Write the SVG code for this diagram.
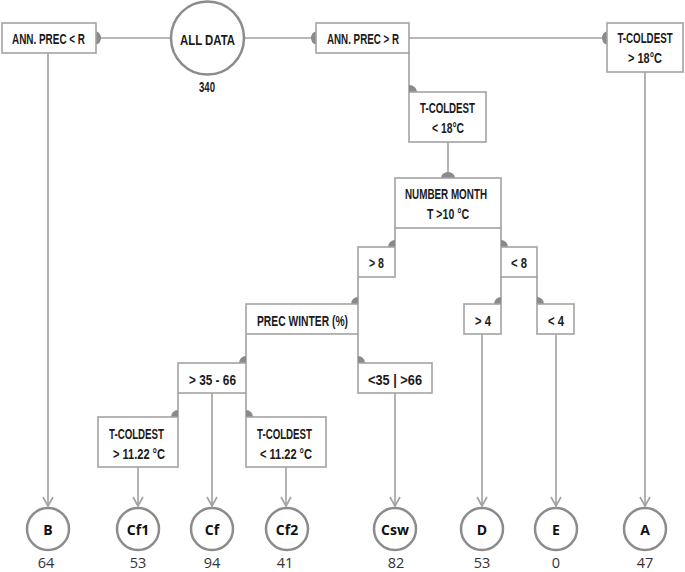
<svg xmlns="http://www.w3.org/2000/svg" width="685" height="572" viewBox="0 0 685 572">
<defs>
<style>
.box{fill:#fff;stroke:#a3a3a3;stroke-width:1.6}
.ln{fill:none;stroke:#a0a0a0;stroke-width:1.6}
.mk{fill:#8a8a8a;stroke:none}
.t{font-family:"Liberation Sans",Arial,sans-serif;font-weight:bold;font-size:15px;fill:#1a1a1a;text-anchor:middle}
.leaf{fill:#fff;stroke:#8c8c8c;stroke-width:2.5}
.lt{font-family:"Open Sans","Noto Sans",sans-serif;font-weight:bold;font-size:14px;fill:#111;text-anchor:middle}
.n{font-family:"Open Sans","Noto Sans",sans-serif;font-size:14.5px;fill:#333;text-anchor:middle}
</style>
<marker id="arr" viewBox="0 0 12 12" refX="10" refY="6" markerWidth="12" markerHeight="12" markerUnits="userSpaceOnUse" orient="auto">
<path d="M1,1 L10,6 L1,11" fill="none" stroke="#a0a0a0" stroke-width="1.6"/>
</marker>
</defs>
<rect width="685" height="572" fill="#fff"/>
<g id="connectors">
<line class="ln" x1="96" y1="38" x2="170" y2="38"/>
<line class="ln" x1="245" y1="38" x2="316" y2="38"/>
<line class="ln" x1="409" y1="38" x2="607" y2="38"/>
<line class="ln" x1="409" y1="53" x2="409" y2="92"/>
<line class="ln" x1="448" y1="142" x2="448" y2="178"/>
<line class="ln" x1="395" y1="228" x2="395" y2="247"/>
<line class="ln" x1="501" y1="228" x2="501" y2="247"/>
<line class="ln" x1="501" y1="277" x2="501" y2="304"/>
<line class="ln" x1="537" y1="277" x2="537" y2="304"/>
<line class="ln" x1="358" y1="277" x2="358" y2="304"/>
<line class="ln" x1="246" y1="334" x2="246" y2="363"/>
<line class="ln" x1="358" y1="334" x2="358" y2="363"/>
<line class="ln" x1="178" y1="393" x2="178" y2="417"/>
<line class="ln" x1="246" y1="393" x2="246" y2="417"/>
<line class="ln" x1="48" y1="53" x2="48" y2="506" marker-end="url(#arr)"/>
<line class="ln" x1="138" y1="467" x2="138" y2="506" marker-end="url(#arr)"/>
<line class="ln" x1="212" y1="393" x2="212" y2="506" marker-end="url(#arr)"/>
<line class="ln" x1="286" y1="467" x2="286" y2="506" marker-end="url(#arr)"/>
<line class="ln" x1="395" y1="393" x2="395" y2="506" marker-end="url(#arr)"/>
<line class="ln" x1="482" y1="334" x2="482" y2="506" marker-end="url(#arr)"/>
<line class="ln" x1="556" y1="334" x2="556" y2="506" marker-end="url(#arr)"/>
<line class="ln" x1="645" y1="72" x2="645" y2="506" marker-end="url(#arr)"/>
<path class="mk" d="M96,31.5 A5,6.5 0 0 1 96,44.5 Z"/>
<path class="mk" d="M316,31.5 A5,6.5 0 0 0 316,44.5 Z"/>
<path class="mk" d="M607,31.5 A5,6.5 0 0 0 607,44.5 Z"/>
<path class="mk" d="M441,178 A7,6 0 0 1 455,178 Z"/>
<path class="mk" d="M409,92 L409,85 A8,7 0 0 1 417,92 Z"/>
<path class="mk" d="M395,247 L388,247 A7,7 0 0 1 395,240 Z"/>
<path class="mk" d="M501,247 L501,240 A7,7 0 0 1 508,247 Z"/>
<path class="mk" d="M501,304 L494,304 A7,7 0 0 1 501,297 Z"/>
<path class="mk" d="M537,304 L537,297 A7,7 0 0 1 544,304 Z"/>
<path class="mk" d="M358,304 L351,304 A7,7 0 0 1 358,297 Z"/>
<path class="mk" d="M246,363 L239,363 A7,7 0 0 1 246,356 Z"/>
<path class="mk" d="M358,363 L358,356 A7,7 0 0 1 365,363 Z"/>
<path class="mk" d="M178,417 L171,417 A7,7 0 0 1 178,410 Z"/>
<path class="mk" d="M246,417 L246,410 A7,7 0 0 1 253,417 Z"/>
</g>
<g id="all-data">
<circle cx="207.5" cy="38" r="36.5" fill="#fff" stroke="#8c8c8c" stroke-width="2.5"/>
<text class="t" x="207.5" y="45" font-size="18" textLength="55" lengthAdjust="spacingAndGlyphs">ALL DATA</text>
<text class="t" x="207" y="92" font-size="12" font-weight="normal" fill="#333" textLength="16" lengthAdjust="spacingAndGlyphs">340</text>
</g>
<g id="ann-prec-lt">
<rect class="box" x="2" y="23" width="94" height="30"/>
<text class="t" x="48.5" y="43.5" textLength="73" lengthAdjust="spacingAndGlyphs">ANN. PREC &lt; R</text>
</g>
<g id="ann-prec-gt">
<rect class="box" x="316" y="23" width="93" height="30"/>
<text class="t" x="363" y="43.5" textLength="72" lengthAdjust="spacingAndGlyphs">ANN. PREC &gt; R</text>
</g>
<g id="tcold-gt18">
<rect class="box" x="607" y="23" width="76" height="49"/>
<text class="t" transform="translate(645,43) scale(0.65,1)" x="0" y="0">T-COLDEST</text>
<text class="t" x="645" y="63" textLength="34" lengthAdjust="spacingAndGlyphs">&gt; 18°C</text>
</g>
<g id="tcold-lt18">
<rect class="box" x="409" y="92" width="77" height="50"/>
<text class="t" x="447.5" y="113" textLength="55" lengthAdjust="spacingAndGlyphs">T-COLDEST</text>
<text class="t" x="448" y="132.5" textLength="32" lengthAdjust="spacingAndGlyphs">&lt; 18°C</text>
</g>
<g id="number-month">
<rect class="box" x="395" y="178" width="106" height="50"/>
<text class="t" x="446" y="198.5" textLength="82" lengthAdjust="spacingAndGlyphs">NUMBER MONTH</text>
<text class="t" x="448" y="218.5" textLength="42" lengthAdjust="spacingAndGlyphs">T &gt;10 °C</text>
</g>
<g id="gt8">
<rect class="box" x="358" y="247" width="37" height="30"/>
<text class="t" x="376.5" y="268" textLength="15" lengthAdjust="spacingAndGlyphs">&gt; 8</text>
</g>
<g id="lt8">
<rect class="box" x="501" y="247" width="36" height="30"/>
<text class="t" x="519" y="268" textLength="16" lengthAdjust="spacingAndGlyphs">&lt; 8</text>
</g>
<g id="gt4">
<rect class="box" x="464" y="304" width="37" height="30"/>
<text class="t" x="483" y="326" textLength="16" lengthAdjust="spacingAndGlyphs">&gt; 4</text>
</g>
<g id="lt4">
<rect class="box" x="537" y="304" width="37" height="30"/>
<text class="t" x="556" y="326" textLength="16" lengthAdjust="spacingAndGlyphs">&lt; 4</text>
</g>
<g id="prec-winter">
<rect class="box" x="246" y="304" width="112" height="30"/>
<text class="t" x="302.5" y="325.5" textLength="91" lengthAdjust="spacingAndGlyphs">PREC WINTER (%)</text>
</g>
<g id="p35-66">
<rect class="box" x="178" y="363" width="68" height="30"/>
<text class="t" x="212.5" y="385" textLength="47" lengthAdjust="spacingAndGlyphs">&gt; 35 - 66</text>
</g>
<g id="p-lt35-gt66">
<rect class="box" x="358" y="363" width="74" height="30"/>
<text class="t" x="395" y="385" textLength="54" lengthAdjust="spacingAndGlyphs">&lt;35 | &gt;66</text>
</g>
<g id="tcold-gt1122">
<rect class="box" x="98" y="417" width="80" height="50"/>
<text class="t" x="136.5" y="438.5" textLength="55" lengthAdjust="spacingAndGlyphs">T-COLDEST</text>
<text class="t" x="139" y="458.5" textLength="52" lengthAdjust="spacingAndGlyphs">&gt; 11.22 °C</text>
</g>
<g id="tcold-lt1122">
<rect class="box" x="246" y="417" width="80" height="50"/>
<text class="t" x="284.5" y="438.5" textLength="55" lengthAdjust="spacingAndGlyphs">T-COLDEST</text>
<text class="t" x="286" y="458.5" textLength="52" lengthAdjust="spacingAndGlyphs">&lt; 11.22 °C</text>
</g>
<g id="leaf-B"><circle class="leaf" cx="48" cy="529" r="21"/><text class="lt" x="48" y="535">B</text><text class="n" x="46" y="567.5">64</text></g>
<g id="leaf-Cf1"><circle class="leaf" cx="138" cy="529" r="21"/><text class="lt" x="138" y="535">Cf1</text><text class="n" x="138" y="567.5">53</text></g>
<g id="leaf-Cf"><circle class="leaf" cx="212" cy="529" r="21"/><text class="lt" x="212" y="535">Cf</text><text class="n" x="212" y="567.5">94</text></g>
<g id="leaf-Cf2"><circle class="leaf" cx="287" cy="529" r="21"/><text class="lt" x="287" y="535">Cf2</text><text class="n" x="285" y="567.5">41</text></g>
<g id="leaf-Csw"><circle class="leaf" cx="395" cy="529" r="21"/><text class="lt" x="395" y="535">Csw</text><text class="n" x="396" y="567.5">82</text></g>
<g id="leaf-D"><circle class="leaf" cx="482" cy="529" r="21"/><text class="lt" x="482" y="535">D</text><text class="n" x="482" y="567.5">53</text></g>
<g id="leaf-E"><circle class="leaf" cx="556" cy="529" r="21"/><text class="lt" x="556" y="535">E</text><text class="n" x="556" y="567.5">0</text></g>
<g id="leaf-A"><circle class="leaf" cx="645" cy="529" r="21"/><text class="lt" x="645" y="535">A</text><text class="n" x="645" y="567.5">47</text></g>
</svg>
